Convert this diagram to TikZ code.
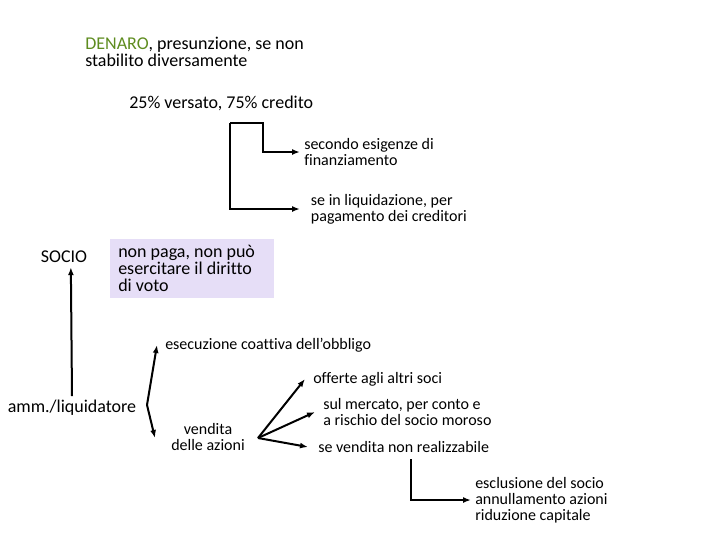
\documentclass[tikz,border=0pt]{standalone}
\usepackage{fontspec}
\setmainfont{Carlito}[Ligatures=NoCommon]
\usepackage{xcolor}
\usepackage{tikz}
\usetikzlibrary{arrows.meta,calc,positioning}
\definecolor{ink}{HTML}{000000}
\definecolor{denaro}{HTML}{5E8C1F}
\definecolor{vote}{HTML}{E6DEF7}

\begin{document}
\begin{tikzpicture}[x=0.75pt,y=-0.75pt,>={Latex[length=6pt,width=4.5pt]},
 bigtext/.style={font=\fontsize{13.5}{12.75}\selectfont,align=left,inner sep=3pt},
 smalltext/.style={font=\fontsize{12}{12}\selectfont,align=left,inner sep=3pt},
 link/.style={->,line width=1.5pt,ink}]
\useasboundingbox (0,0) rectangle (720,540);
% top: how the shares are paid
\node[bigtext,anchor=west] (denaro) at (81,52) {\textcolor{denaro}{DENARO}, presunzione, se non\\stabilito diversamente};
\node[bigtext,anchor=west] (credito) at (125,103) {25\% versato, 75\% credito};
\coordinate (split) at (230,123);
\coordinate (knee) at (263,123);
\node[smalltext,anchor=west] (esigenze) at (300,152) {secondo esigenze di\\finanziamento};
\node[smalltext,anchor=west,inner xsep=8pt] (liquid) at (300,209) {se in liquidazione, per\\pagamento dei creditori};
\draw[link] (split) -- (knee) |- (esigenze.west);
\draw[link] (split) |- (liquid.west);
% middle: the partner who does not pay
\node[bigtext] (socio) at (64,257) {SOCIO};
\node[bigtext,align=flush left,fill=vote,anchor=north west,text width=111pt,inner xsep=6pt,minimum width=123pt,minimum height=44.25pt] (voto) at (110,239) {non paga, non può\\esercitare il diritto\\di voto};
\node[bigtext] (amm) at (72,408) {amm./liquidatore};
\draw[link] (amm.north) -- ($(socio.south)!0.25!(socio.south east)$);
% bottom: what the directors can do
\coordinate (fork) at (147,405);
\coordinate (down) at (155,438);
\node[smalltext,anchor=west,inner xsep=6pt] (ese) at (157,345) {esecuzione coattiva dell'obbligo};
\draw[link] (fork) -- (ese.west);
\draw[link] (fork) -- (down);
\node[smalltext,align=center] (vendita) at (208,437) {vendita\\delle azioni};
\coordinate (hub) at (258,438);
\node[smalltext,anchor=west,inner xsep=6pt] (offerte) at (305,379) {offerte agli altri soci};
\node[smalltext,anchor=west,inner xsep=6pt] (mercato) at (315,412) {sul mercato, per conto e\\a rischio del socio moroso};
\node[smalltext,anchor=west,inner xsep=7.5pt] (nonreal) at (308,447) {se vendita non realizzabile};
\foreach \n in {offerte,mercato,nonreal} {\draw[link] (hub) -- (\n.west);}
\coordinate (drop) at (411,459);
\node[smalltext,anchor=west] (escl) at (471,500) {esclusione del socio\\annullamento azioni\\riduzione capitale};
\draw[link] (drop) |- (escl.west);
\end{tikzpicture}
\end{document}
